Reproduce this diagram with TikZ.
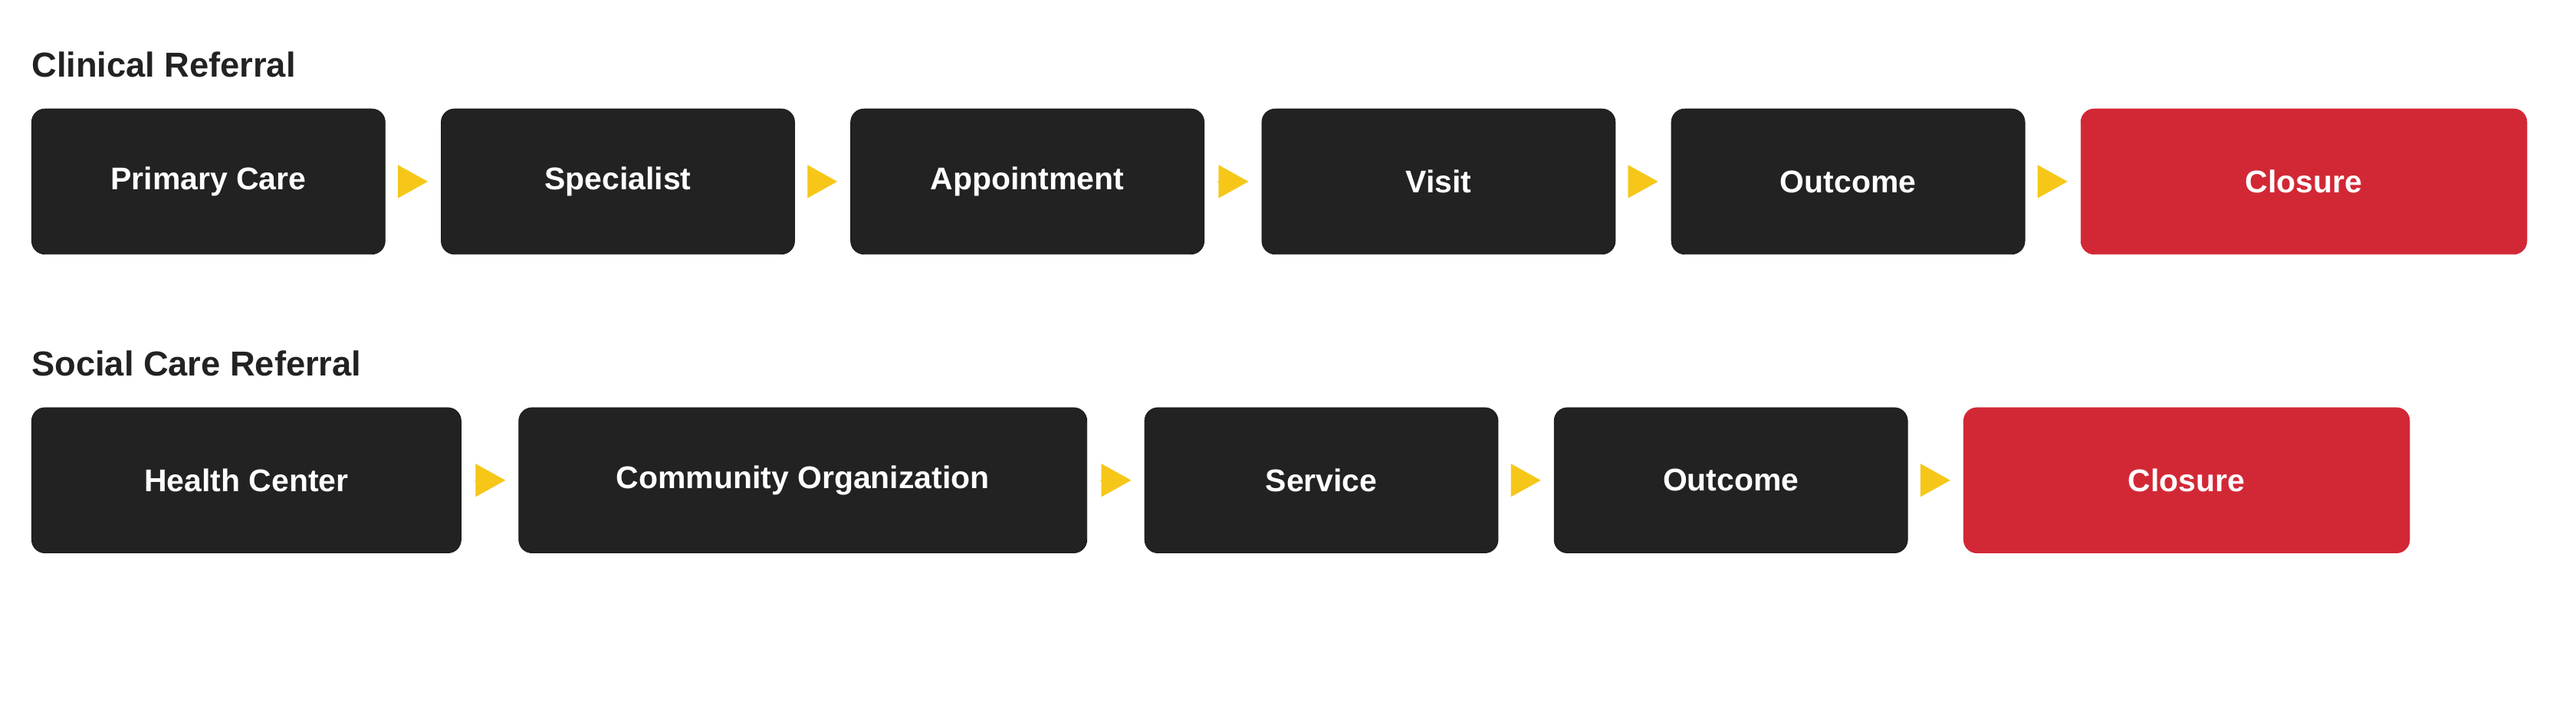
\documentclass[tikz,border=0pt]{standalone}
\usepackage{fontspec}
\setmainfont{Liberation Sans}
\usetikzlibrary{arrows.meta}
\definecolor{boxdark}{HTML}{222222}
\definecolor{boxred}{HTML}{D22836}
\definecolor{tipyellow}{HTML}{F6C719}
\begin{document}
\begin{tikzpicture}[x=1pt,y=-1pt]
	\tikzset{stp/.style={rectangle, rounded corners=8pt, fill=boxdark, draw=boxdark!80!black, text=white, font=\bfseries\fontsize{19}{22}\selectfont, minimum height=88pt, anchor=west}};
	\tikzset{fin/.style={stp, fill=boxred, draw=boxred}};
	\tikzset{ttl/.style={anchor=west, text=boxdark, font=\bfseries\fontsize{21}{24}\selectfont, inner sep=0pt}};
	\tikzset{arr/.style={-{Triangle[length=18pt,width=20pt]}, tipyellow, line width=0.1pt, shorten <=8pt, shorten >=8pt}};
	\useasboundingbox (0,0) rectangle (1560,427);

	\node[ttl] (t1) at (19,39) {Clinical Referral};
	\node[stp, minimum width=214pt] (pc) at (19,110) {Primary Care};
	\node[stp, minimum width=214pt] (sp) at (267,110) {Specialist};
	\node[stp, minimum width=214pt] (ap) at (515,110) {Appointment};
	\node[stp, minimum width=214pt] (vi) at (764,110) {Visit};
	\node[stp, minimum width=214pt] (ou) at (1012,110) {Outcome};
	\node[fin, minimum width=270pt] (cl) at (1260,110) {Closure};

	\node[ttl] (t2) at (19,220) {Social Care Referral};
	\node[stp, minimum width=260pt] (hc) at (19,291) {Health Center};
	\node[stp, minimum width=344pt] (co) at (314,291) {Community Organization};
	\node[stp, minimum width=214pt] (se) at (693,291) {Service};
	\node[stp, minimum width=214pt] (so) at (941,291) {Outcome};
	\node[fin, minimum width=270pt] (sc) at (1189,291) {Closure};

	\draw[arr] (pc) -- (sp);
	\draw[arr] (sp) -- (ap);
	\draw[arr] (ap) -- (vi);
	\draw[arr] (vi) -- (ou);
	\draw[arr] (ou) -- (cl);

	\draw[arr] (hc) -- (co);
	\draw[arr] (co) -- (se);
	\draw[arr] (se) -- (so);
	\draw[arr] (so) -- (sc);
\end{tikzpicture}
\end{document}
